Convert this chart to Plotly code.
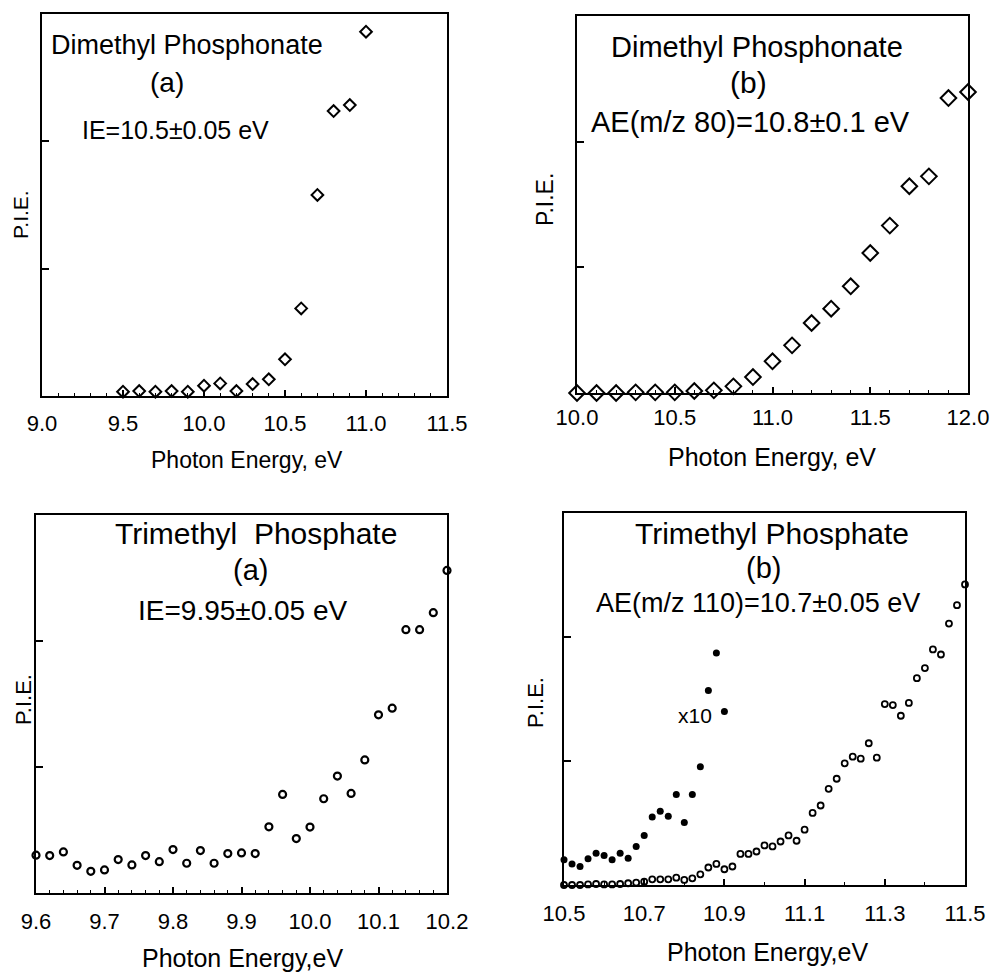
import plotly.graph_objects as go

# ---------------- data ----------------
# Dimethyl Phosphonate (a)
dmp_a_energy = [9.5, 9.6, 9.7, 9.8, 9.9, 10.0, 10.1, 10.2, 10.3, 10.4, 10.5, 10.6, 10.7, 10.8, 10.9, 11.0]
dmp_a_pie = [0.034, 0.039, 0.034, 0.039, 0.034, 0.081, 0.099, 0.039, 0.094, 0.131,
             0.288, 0.688, 1.579, 2.238, 2.285, 2.861]

# Dimethyl Phosphonate (b)
dmp_b_energy = [10.0, 10.1, 10.2, 10.3, 10.4, 10.5, 10.6, 10.7, 10.8, 10.9, 11.0,
                11.1, 11.2, 11.3, 11.4, 11.5, 11.6, 11.7, 11.8, 11.9, 12.0]
dmp_b_pie = [0.0, 0.0, 0.0, 0.005, 0.005, 0.005, 0.016, 0.021, 0.053, 0.127, 0.252,
             0.379, 0.557, 0.671, 0.849, 1.114, 1.332, 1.645, 1.724, 2.347, 2.395]

# Trimethyl Phosphate (a)
tmp_a_energy = [9.60, 9.62, 9.64, 9.66, 9.68, 9.70, 9.72, 9.74, 9.76, 9.78, 9.80,
                9.82, 9.84, 9.86, 9.88, 9.90, 9.92, 9.94, 9.96, 9.98, 10.00,
                10.02, 10.04, 10.06, 10.08, 10.10, 10.12, 10.14, 10.16, 10.18, 10.20]
tmp_a_pie = [0.300, 0.297, 0.326, 0.220, 0.172, 0.183, 0.265, 0.223, 0.297, 0.249, 0.345,
             0.236, 0.337, 0.236, 0.313, 0.318, 0.313, 0.525, 0.782, 0.432, 0.523,
             0.748, 0.928, 0.790, 1.056, 1.414, 1.467, 2.090, 2.090, 2.225, 2.560]

# Trimethyl Phosphate (b), m/z 110
tmp_b_energy = [10.50, 10.52, 10.54, 10.56, 10.58, 10.60, 10.62, 10.64, 10.66, 10.68,
                10.70, 10.72, 10.74, 10.76, 10.78, 10.80, 10.82, 10.84, 10.86, 10.88,
                10.90, 10.92, 10.94, 10.96, 10.98, 11.00, 11.02, 11.04, 11.06, 11.08,
                11.10, 11.12, 11.14, 11.16, 11.18, 11.20, 11.22, 11.24, 11.26, 11.28,
                11.30, 11.32, 11.34, 11.36, 11.38, 11.40, 11.42, 11.44, 11.46, 11.48, 11.50]
tmp_b_pie = [0.0, 0.0, 0.0, 0.005, 0.008, 0.005, 0.005, 0.008, 0.014, 0.019,
             0.027, 0.046, 0.046, 0.046, 0.059, 0.041, 0.054, 0.086, 0.141, 0.170,
             0.127, 0.149, 0.251, 0.251, 0.270, 0.319, 0.311, 0.351, 0.400, 0.357,
             0.446, 0.581, 0.641, 0.776, 0.857, 0.981, 1.035, 1.019, 1.143, 1.027,
             1.459, 1.451, 1.365, 1.468, 1.668, 1.749, 1.900, 1.859, 2.108, 2.257, 2.424]

# Trimethyl Phosphate (b), x10 scaled
tmp_b10_energy = [10.50, 10.52, 10.54, 10.56, 10.58, 10.60, 10.62, 10.64, 10.66, 10.68,
                  10.70, 10.72, 10.74, 10.76, 10.78, 10.80, 10.82, 10.84, 10.86, 10.88, 10.90]
tmp_b10_pie = [0.203, 0.170, 0.149, 0.211, 0.257, 0.238, 0.203, 0.257, 0.216, 0.311,
               0.400, 0.549, 0.595, 0.554, 0.730, 0.505, 0.730, 0.954, 1.568, 1.870, 1.400]

# tick labels
ticks_a = [9.0, 9.5, 10.0, 10.5, 11.0, 11.5]
ticks_b = [10.0, 10.5, 11.0, 11.5, 12.0]
ticks_c = [9.6, 9.7, 9.8, 9.9, 10.0, 10.1, 10.2]
ticks_d = [10.5, 10.7, 10.9, 11.1, 11.3, 11.5]

W, H = 990, 972
FONT = "Liberation Sans, Arial, Helvetica, sans-serif"

def px(x):
    return x / W

def py(y):
    return 1 - y / H

fig = go.Figure()

fig.add_trace(go.Scatter(x=dmp_a_energy, y=dmp_a_pie, mode="markers", xaxis="x", yaxis="y",
                         marker=dict(symbol="diamond-open", size=9, color="black", line=dict(width=2)),
                         cliponaxis=False, showlegend=False))
fig.add_trace(go.Scatter(x=dmp_b_energy, y=dmp_b_pie, mode="markers", xaxis="x2", yaxis="y2",
                         marker=dict(symbol="diamond-open", size=12, color="black", line=dict(width=2)),
                         cliponaxis=False, showlegend=False))
fig.add_trace(go.Scatter(x=tmp_a_energy, y=tmp_a_pie, mode="markers", xaxis="x3", yaxis="y3",
                         marker=dict(symbol="circle-open", size=7, color="black", line=dict(width=2.2)),
                         cliponaxis=False, showlegend=False))
fig.add_trace(go.Scatter(x=tmp_b_energy, y=tmp_b_pie, mode="markers", xaxis="x4", yaxis="y4",
                         marker=dict(symbol="circle-open", size=6, color="black", line=dict(width=1.8)),
                         cliponaxis=False, showlegend=False))
fig.add_trace(go.Scatter(x=tmp_b10_energy, y=tmp_b10_pie, mode="markers", xaxis="x4", yaxis="y4",
                         marker=dict(symbol="circle", size=7, color="black"),
                         cliponaxis=False, showlegend=False))


def xax(domain, rng, ticks, fmt, minor_dtick, anchor, standoff):
    return dict(domain=domain, range=rng, anchor=anchor, automargin=False,
                tickmode="array", tickvals=ticks, ticktext=[fmt.format(t) for t in ticks],
                ticks="inside", ticklen=6, tickwidth=1.5, tickcolor="black",
                minor=dict(dtick=minor_dtick, tick0=rng[0], ticks="inside", ticklen=3,
                           tickwidth=1.2, tickcolor="black", showgrid=False),
                showline=True, mirror=True, linecolor="black", linewidth=2,
                showgrid=False, zeroline=False,
                tickfont=dict(family=FONT, size=22, color="black"),
                ticklabelstandoff=standoff, fixedrange=True)


def yax(domain, anchor):
    return dict(domain=domain, range=[0, 3.0], anchor=anchor, automargin=False,
                tickmode="array", tickvals=[1, 2], showticklabels=False,
                ticks="inside", ticklen=7, tickwidth=1.5, tickcolor="black",
                showline=True, mirror=True, linecolor="black", linewidth=2,
                showgrid=False, zeroline=False, fixedrange=True)


fig.update_layout(
    width=W, height=H,
    margin=dict(l=0, r=0, t=0, b=0, pad=0, autoexpand=False),
    paper_bgcolor="white", plot_bgcolor="white",
    xaxis=xax([px(42), px(447)], [9.0, 11.5], ticks_a, "{:.1f}", 0.1, "y", 7),
    yaxis=yax([py(396), py(14)], "x"),
    xaxis2=xax([px(577), px(968)], [10.0, 12.0], ticks_b, "{:.1f}", 0.1, "y2", 4),
    yaxis2=yax([py(393), py(16)], "x2"),
    xaxis3=xax([px(36), px(447)], [9.6, 10.2], ticks_c, "{:.1f}", 0.02, "y3", 8),
    yaxis3=yax([py(893), py(515)], "x3"),
    xaxis4=xax([px(564), px(965)], [10.5, 11.5], ticks_d, "{:.1f}", 0.1, "y4", 8),
    yaxis4=yax([py(885), py(513)], "x4"),
)

texts = [
    # text, x, y, size, angle
    ("Dimethyl Phosphonate", 187, 45, 27, 0),
    ("(a)", 167, 82, 28, 0),
    ("IE=10.5±0.05 eV", 175, 130, 25, 0),
    ("P.I.E.", 20, 215, 21, -90),
    ("Photon Energy, eV", 247, 460, 23, 0),

    ("Dimethyl Phosphonate", 757, 47, 29, 0),
    ("(b)", 748, 83, 30, 0),
    ("AE(m/z 80)=10.8±0.1 eV", 750, 122, 29, 0),
    ("P.I.E.", 545, 200, 23, -90),
    ("Photon Energy, eV", 772, 457, 25, 0),

    ("Trimethyl  Phosphate", 256, 533, 30, 0),
    ("(a)", 250, 570, 29, 0),
    ("IE=9.95±0.05 eV", 243, 610, 28, 0),
    ("P.I.E.", 23, 700, 22, -90),
    ("Photon Energy,eV", 242, 958, 25, 0),

    ("Trimethyl Phosphate", 772, 533, 30, 0),
    ("(b)", 763, 568, 29, 0),
    ("AE(m/z 110)=10.7±0.05 eV", 758, 603, 27, 0),
    ("P.I.E.", 535, 703, 22, -90),
    ("Photon Energy,eV", 767, 952, 25, 0),
    ("x10", 695, 715, 21, 0),
]

for t, x, y, s, a in texts:
    fig.add_annotation(text=t, x=px(x), y=py(y), xref="paper", yref="paper",
                       xanchor="center", yanchor="middle", showarrow=False,
                       textangle=a, font=dict(family=FONT, size=s, color="black"))

fig.write_html("out.html", post_script="document.body.style.margin='0';",
               config={"displayModeBar": False})
